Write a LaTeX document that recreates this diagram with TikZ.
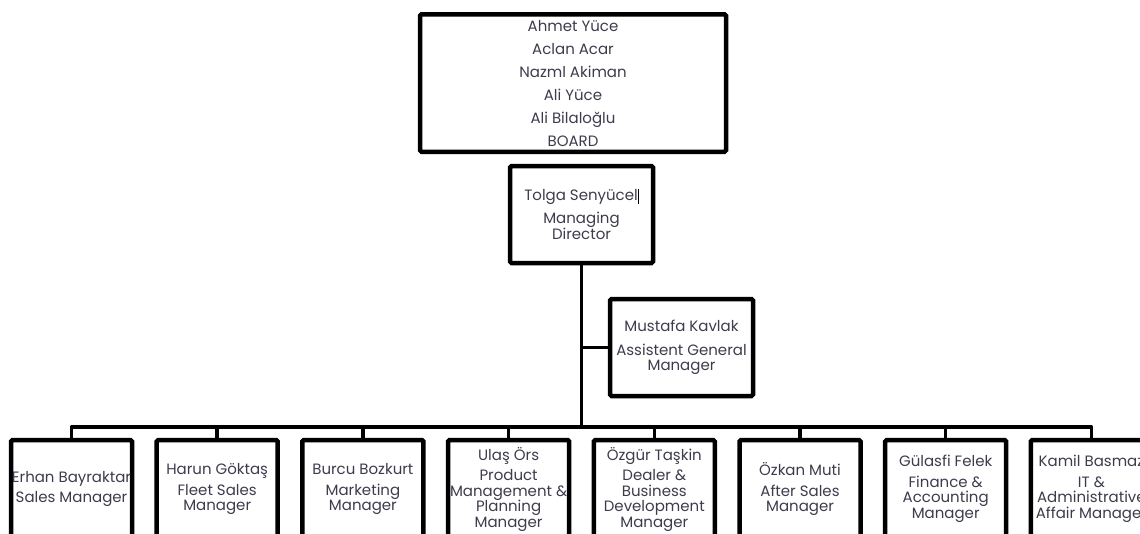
\documentclass[tikz,border=0pt]{standalone}
\usepackage{fontspec}
\setmainfont{Poppins}
\definecolor{txt}{HTML}{3C3C4C}
\begin{document}
\begin{tikzpicture}[x=1pt,y=-1pt,
  box/.style={draw=black,line width=4.5pt,rounded corners=1.5pt,inner sep=0pt},
  bbox/.style={box,minimum width=121pt,minimum height=130pt},
  conn/.style={draw=black,line width=3.5pt},
  lbl/.style={text=txt,align=center,inner sep=0pt,font=\fontsize{15}{15.5}\selectfont}]
\useasboundingbox (0,0) rectangle (1140,533);
\clip (0,0) rectangle (1140,533);
% top boxes
\node[box,minimum width=306pt,minimum height=137.5pt] (board) at (573,83) {};
\node[lbl,font=\fontsize{15}{23}\selectfont] (boardt) at (573,83) {Ahmet Yüce\\Aclan Acar\\Nazml Akiman\\Ali Yüce\\Ali Bilaloğlu\\BOARD};
\node[box,minimum width=143pt,minimum height=97pt] (md) at (581.5,214.5) {};
\node[lbl] (mdt) at (581.5,214) {Tolga Senyücel{\color{black}\rule[-3.5pt]{0.9pt}{15pt}}\\[8pt]Managing\\Director};
\node[box,minimum width=143pt,minimum height=97pt] (agm) at (681.5,347.5) {};
\node[lbl] (agmt) at (681.5,347.5) {Mustafa Kavlak\\[8pt]Assistent General\\Manager};
% bottom boxes
\foreach \i/\x in {1/71.5,2/217.2,3/362.9,4/508.6,5/654.3,6/800,7/945.7,8/1091.4}{
  \node[bbox] (b\i) at (\x,505) {};
}
\node[lbl] (t1) at (b1 |- 0,489) {Erhan Bayraktar\\[5pt]Sales Manager};
\node[lbl] (t2) at (b2 |- 0,489) {Harun Göktaş\\[5pt]Fleet Sales\\Manager};
\node[lbl] (t3) at (b3 |- 0,489) {Burcu Bozkurt\\[5pt]Marketing\\Manager};
\node[lbl] (t4) at (b4 |- 0,489) {Ulaş Örs\\[5pt]Product\\Management \&\\Planning\\Manager};
\node[lbl] (t5) at (b5 |- 0,489) {Özgür Taşkin\\[5pt]Dealer \&\\Business\\Development\\Manager};
\node[lbl] (t6) at (b6 |- 0,489) {Özkan Muti\\[5pt]After Sales\\Manager};
\node[lbl] (t7) at (b7 |- 0,489) {Gülasfi Felek\\[5pt]Finance \&\\Accounting\\Manager};
\node[lbl] (t8) at (b8 |- 0,489) {Kamil Basmaz\\[5pt]IT \&\\Administrative\\Affair Manager};
% connectors
\coordinate (bus) at (0,427);
\draw[conn] (md.south) -- (md.south |- bus);
\draw[conn] (md.south |- agm.west) -- (agm.west);
\draw[conn,line join=round] (b1.north) -- (b1.north |- bus) -- (b8.north |- bus) -- (b8.north);
\foreach \i in {2,...,7}{
  \draw[conn] (b\i.north) -- (b\i.north |- bus);
}
\end{tikzpicture}
\end{document}
